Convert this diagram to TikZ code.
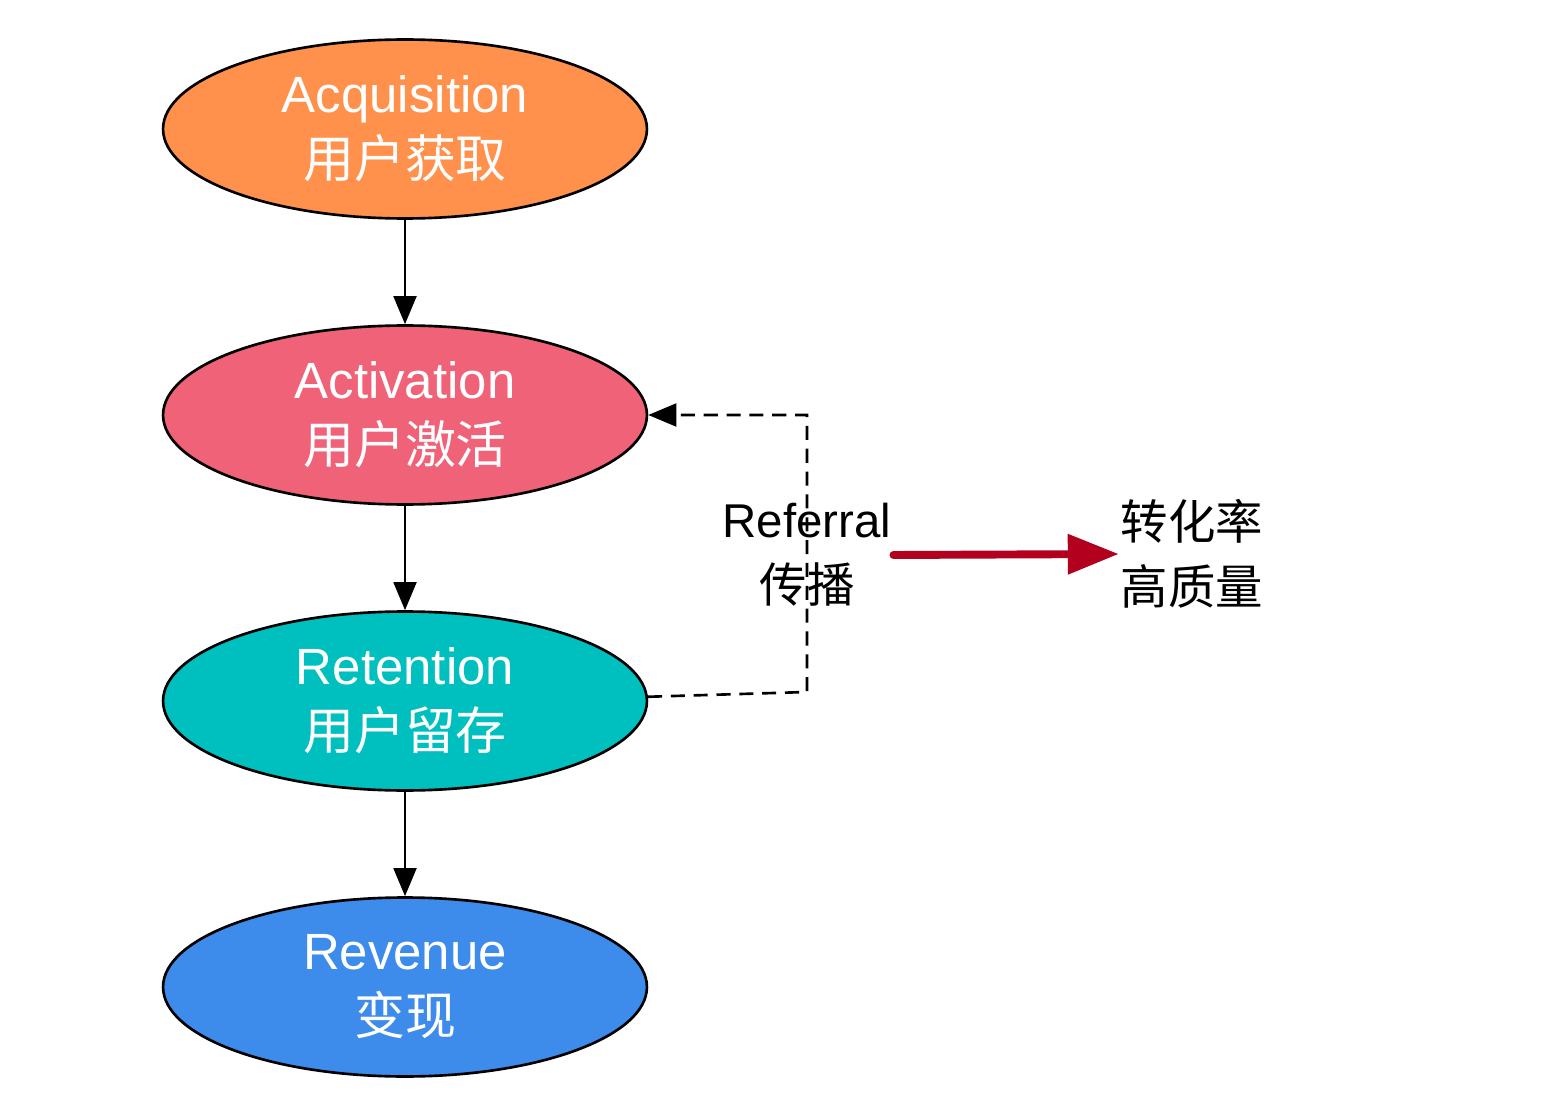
\documentclass[tikz,border=0pt]{standalone}
\usepackage{fontspec}
\setmainfont{Liberation Sans}
\newfontfamily\cjk{Noto Sans CJK SC}
\usetikzlibrary{arrows.meta,shapes.geometric}
\definecolor{acqcol}{HTML}{FF914D}
\definecolor{actcol}{HTML}{F06278}
\definecolor{retcol}{HTML}{00BFBF}
\definecolor{revcol}{HTML}{3D8BEB}
\definecolor{redcol}{HTML}{B3001E}
\tikzset{
  stage/.style={ellipse, draw=black, line width=1.5pt, minimum width=9.68cm,
    minimum height=3.58cm, inner sep=0pt, text=white, align=center,
    font=\fontsize{29}{37}\selectfont},
  label/.style={inner sep=1pt, align=center, font=\fontsize{27}{37}\selectfont},
  flow/.style={line width=1.5pt, -{Triangle[length=16pt,width=13pt]}},
}
\begin{document}
\begin{tikzpicture}[x=0.02cm, y=-0.02cm]
	\useasboundingbox (0,0) rectangle (1562,1118);
	\node[stage, fill=acqcol] (acq) at (405,129) {Acquisition\\{\cjk 用户获取}};
	\node[stage, fill=actcol] (act) at (405,415) {Activation\\{\cjk 用户激活}};
	\node[stage, fill=retcol] (ret) at (405,701) {Retention\\{\cjk 用户留存}};
	\node[stage, fill=revcol] (rev) at (405,987) {Revenue\\{\cjk 变现}};
	
	\draw[flow] (acq) -- (act);
	\draw[flow] (act) -- (ret);
	\draw[flow] (ret) -- (rev);
	
	\coordinate (corner) at (807,692);
	\draw[flow, dash pattern=on 8pt off 5pt] (ret.1) -- (corner) |- (act.east);
	
	\node[label] (referral) at (807,555) {Referral\\{\cjk 传播}};
	\node[label] (rate) at (1192,554) {{\cjk 转化率}\\{\cjk 高质量}};
	\draw[redcol, line width=4.5pt, line cap=round, -{Triangle[length=29pt,width=22pt]}] (referral.east) -- (rate.west);
\end{tikzpicture}
\end{document}
